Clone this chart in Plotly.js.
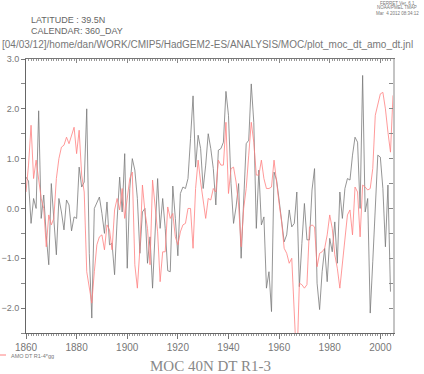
<!DOCTYPE html>
<html><head><meta charset="utf-8">
<script src="https://cdn.plot.ly/plotly-3.0.1.min.js"></script>
<style>html,body{margin:0;padding:0;background:#fff}#chart{width:424px;height:374px}</style>
</head><body><div id="chart"></div>
<script>
const mocYears = [1860,1861,1862,1863,1864,1865,1866,1867,1868,1869,1870,1871,1872,1873,1874,1875,1876,1877,1878,1879,
1880,1881,1882,1883,1884,1885,1886,1887,1888,1889,1890,1891,1892,1893,1894,1895,1896,1897,1898,1899,
1900,1901,1902,1903,1904,1905,1906,1907,1908,1909,1910,1911,1912,1913,1914,1915,1916,1917,1918,1919,
1920,1921,1922,1923,1924,1925,1926,1927,1928,1929,1930,1931,1932,1933,1934,1935,1936,1937,1938,1939,
1940,1941,1942,1943,1944,1945,1946,1947,1948,1949,1950,1951,1952,1953,1954,1955,1956,1957,1958,1959,
1960,1961,1962,1963,1964,1965,1966,1967,1968,1969,1970,1971,1972,1973,1974,1975,1976,1977,1978,1979,
1980,1981,1982,1983,1984,1985,1986,1987,1988,1989,1990,1991,1992,1993,1994,1995,1996,1997,1998,1999,
2000,2001,2002,2003,2004];
const mocValues = [0.63,0.55,-0.30,0.20,0.00,1.96,-0.20,0.27,-0.55,-1.13,0.50,-0.33,-0.93,0.20,-0.07,-0.43,0.17,0.07,-0.45,-0.17,
-0.20,0.83,0.43,0.53,2.00,-0.90,-2.20,0.00,0.10,0.23,-0.10,-0.50,0.13,-0.73,-0.70,-1.33,-0.23,0.63,-0.07,1.10,
-1.20,0.40,1.00,0.77,0.20,-0.90,-0.07,0.00,-1.10,-0.57,-1.60,-0.49,0.60,-0.40,0.20,-0.40,-1.25,-1.27,0.45,-0.20,
-0.95,0.30,0.43,0.40,0.60,1.40,2.26,0.83,1.47,1.20,0.40,0.87,1.50,1.20,0.80,0.07,1.17,1.20,1.33,2.35,
1.87,0.50,-0.30,0.03,0.50,-1.00,0.27,1.30,1.37,2.50,1.73,-0.40,0.77,-0.33,-0.17,-1.60,-1.27,-2.07,0.73,0.57,
0.17,-0.23,-0.67,-0.53,-0.03,-0.37,-0.30,0.33,-1.57,-0.70,0.10,-0.63,-0.63,0.37,0.80,-1.50,-2.03,-1.27,-0.80,-1.47,
-0.60,-0.87,-0.27,-1.10,0.33,-0.20,0.40,0.60,0.57,1.07,1.43,1.33,0.00,2.67,-0.07,0.20,-2.10,-1.07,-0.13,1.07,
1.03,0.40,-0.77,0.47,-1.67];
const amoYears = [1860,1861,1862,1863,1864,1865,1866,1867,1868,1869,1870,1871,1872,1873,1874,1875,1876,1877,1878,1879,
1880,1881,1882,1883,1884,1885,1886,1887,1888,1889,1890,1891,1892,1893,1894,1895,1896,1897,1898,1899,
1900,1901,1902,1903,1904,1905,1906,1907,1908,1909,1910,1911,1912,1913,1914,1915,1916,1917,1918,1919,
1920,1921,1922,1923,1924,1925,1926,1927,1928,1929,1930,1931,1932,1933,1934,1935,1936,1937,1938,1939,
1940,1941,1942,1943,1944,1945,1946,1947,1948,1949,1950,1951,1952,1953,1954,1955,1956,1957,1958,1959,
1960,1961,1962,1963,1964,1965,1966,1967,1968,1969,1970,1971,1972,1973,1974,1975,1976,1977,1978,1979,
1980,1981,1982,1983,1984,1985,1986,1987,1988,1989,1990,1991,1992,1993,1994,1995,1996,1997,1998,1999,
2000,2001,2002,2003,2004,2005];
const amoValues = [0.33,0.87,1.67,0.60,0.97,0.53,0.20,0.00,-0.77,-0.13,-0.33,-0.20,0.60,1.00,1.23,1.27,1.43,1.30,1.47,1.63,
1.10,1.57,0.67,0.33,-1.27,-1.60,-1.90,-1.27,-0.73,-0.57,-0.53,-0.83,-0.33,-0.43,-0.83,-0.03,0.20,-0.03,0.40,-0.20,
0.27,0.60,0.73,-1.13,-1.60,-0.80,0.47,-0.07,-0.40,-1.13,0.57,0.03,-0.47,-1.47,-0.87,-0.87,0.03,-0.20,-0.10,-0.57,
-0.73,-0.47,-0.33,-0.30,0.00,0.00,-0.80,0.40,0.97,0.53,0.20,-0.20,0.20,0.17,0.40,0.33,0.97,0.87,0.87,1.73,
0.30,0.80,0.83,0.53,0.07,-0.77,0.00,0.40,1.07,1.73,1.33,0.67,0.67,0.97,0.60,0.40,0.40,0.43,0.97,0.50,
0.10,-0.27,-0.80,-0.90,-1.10,-1.00,-2.40,-3.20,-1.50,-1.53,-1.60,-1.53,-0.37,-0.33,-0.37,-1.17,-0.90,-0.87,-0.80,-0.53,
-0.13,-0.40,-0.93,-1.20,-1.60,-1.07,-0.60,-0.13,-0.03,-0.53,0.43,0.33,-0.57,0.47,0.43,0.37,0.40,0.80,1.87,2.07,
2.30,2.33,2.00,1.53,1.13,2.27];
const xTicks = [1860,1880,1900,1920,1940,1960,1980,2000];
const yTicks = [-2.0,-1.0,0.0,1.0,2.0,3.0];
const mocName = 'MOC 40N DT R1-3';
const amoName = 'AMO DT R1-4*gg';

const L = 26, R = 393, T = 59, B = 333, W = 424, H = 374;
const px = x => (x - L) / (R - L);
const py = y => (B - y) / (B - T);

const traces = [
  {x: mocYears, y: mocValues, type: 'scatter', mode: 'lines', name: mocName,
   line: {color: '#7a7a7a', width: 0.8}, hoverinfo: 'skip'},
  {x: amoYears, y: amoValues, type: 'scatter', mode: 'lines', name: amoName,
   line: {color: '#ff8080', width: 0.8}, hoverinfo: 'skip'}
];

const tickFont = {family: 'Liberation Sans, Arial, sans-serif', size: 9, color: '#777'};
const layout = {
  width: W, height: H,
  margin: {l: L, r: W - R, t: T, b: H - B, pad: 0},
  paper_bgcolor: '#fff', plot_bgcolor: '#fff',
  showlegend: false,
  xaxis: {range: [1860, 2005], tickmode: 'array', tickvals: xTicks, ticktext: xTicks.map(String),
    ticks: 'outside', ticklen: 5, tickcolor: '#777', tickwidth: 1,
    minor: {dtick: 1, tick0: 1860, ticks: 'outside', ticklen: 2, tickcolor: '#999'},
    showline: true, linecolor: '#666', linewidth: 1, showgrid: false, zeroline: false,
    tickfont: {family: 'Liberation Sans, Arial, sans-serif', size: 10, color: '#777'}},
  xaxis2: {range: [1860, 2005], overlaying: 'x', side: 'top', tickmode: 'array', tickvals: xTicks,
    ticks: 'inside', ticklen: 4, tickcolor: '#888', showticklabels: false,
    minor: {dtick: 1, tick0: 1860, ticks: 'inside', ticklen: 2, tickcolor: '#999'},
    showline: true, linecolor: '#777', linewidth: 1, showgrid: false, zeroline: false},
  yaxis: {range: [-2.5, 3.0], tickmode: 'array', tickvals: yTicks, ticktext: yTicks.map(v => v.toFixed(1).replace('-', '\u2212')),
    ticks: 'outside', ticklen: 4, tickcolor: '#777',
    minor: {dtick: 0.5, tick0: 0, ticks: 'outside', ticklen: 4, tickcolor: '#888'},
    showline: true, linecolor: '#666', linewidth: 1, showgrid: false, zeroline: false, tickfont: tickFont},
  yaxis2: {range: [-2.5, 3.0], overlaying: 'y', side: 'right', dtick: 0.5, tick0: 0,
    ticks: 'inside', ticklen: 4, tickcolor: '#888', showticklabels: false,
    showline: true, linecolor: '#c4c4c4', linewidth: 2, showgrid: false, zeroline: false},
  annotations: [
    {text: 'FERRET Ver. 6.1', x: px(397), y: py(3), xref: 'paper', yref: 'paper', xanchor: 'center', yanchor: 'middle', showarrow: false, font: {family: 'Liberation Sans', size: 4.5, color: '#777'}},
    {text: 'NOAA/PMEL TMAP', x: px(397), y: py(8), xref: 'paper', yref: 'paper', xanchor: 'center', yanchor: 'middle', showarrow: false, font: {family: 'Liberation Sans', size: 4.5, color: '#777'}},
    {text: 'Mar  4 2012 08:34:12', x: px(397), y: py(13), xref: 'paper', yref: 'paper', xanchor: 'center', yanchor: 'middle', showarrow: false, font: {family: 'Liberation Sans', size: 4.5, color: '#777'}},
    {text: 'LATITUDE : 39.5N', x: px(29), y: py(20), xref: 'paper', yref: 'paper', xanchor: 'left', yanchor: 'middle', showarrow: false, font: {family: 'Liberation Sans', size: 9, color: '#666'}},
    {text: 'CALENDAR: 360_DAY', x: px(29), y: py(31), xref: 'paper', yref: 'paper', xanchor: 'left', yanchor: 'middle', showarrow: false, font: {family: 'Liberation Sans', size: 9, color: '#666'}},
    {text: '[04/03/12]/home/dan/WORK/CMIP5/HadGEM2-ES/ANALYSIS/MOC/plot_moc_dt_amo_dt.jnl', x: px(0), y: py(45), xref: 'paper', yref: 'paper', xanchor: 'left', yanchor: 'middle', showarrow: false, font: {family: 'Liberation Sans', size: 10, color: '#777'}},
    {text: amoName, x: px(9), y: py(356), xref: 'paper', yref: 'paper', xanchor: 'left', yanchor: 'middle', showarrow: false, font: {family: 'Liberation Sans', size: 5.5, color: '#777'}},
    {text: mocName, x: px(210), y: py(366), xref: 'paper', yref: 'paper', xanchor: 'center', yanchor: 'middle', showarrow: false, font: {family: 'Liberation Serif', size: 15, color: '#888'}}
  ],
  shapes: [
    {type: 'line', xref: 'paper', yref: 'paper', x0: px(0), x1: px(6), y0: py(355), y1: py(355), line: {color: '#ff8080', width: 1}}
  ]
};
const dummy = {x: [1860], y: [0], xaxis: 'x2', yaxis: 'y2', type: 'scatter', mode: 'markers', marker: {opacity: 0}, hoverinfo: 'skip', showlegend: false};
Plotly.newPlot('chart', traces.concat([dummy]), layout, {staticPlot: true, displayModeBar: false});
</script></body></html>
